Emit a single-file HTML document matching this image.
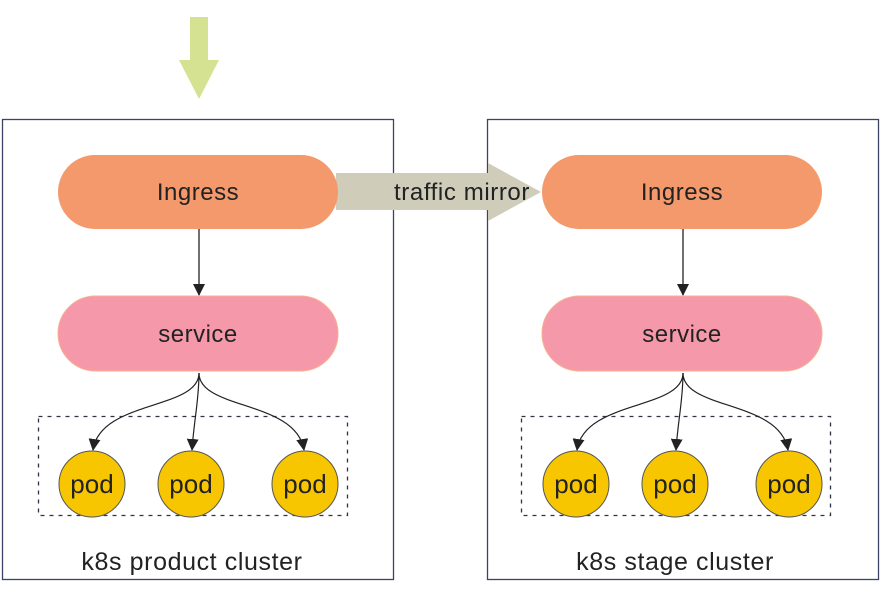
<!DOCTYPE html>
<html><head><meta charset="utf-8"><style>
html,body{margin:0;padding:0;background:#fff;}
svg{display:block;}
text{font-family:"Liberation Sans",sans-serif;fill:#222;}
</style></head><body>
<svg width="887" height="599" viewBox="0 0 887 599" xmlns="http://www.w3.org/2000/svg">
<defs>
<marker id="ah" markerWidth="12" markerHeight="12" refX="11" refY="6" orient="auto" markerUnits="userSpaceOnUse">
<path d="M0,0 L12,6 L0,12 z" fill="#222"/>
</marker>
</defs>
<polygon points="190,17 208,17 208,60 219,60 199,99 179,60 190,60" fill="#d4e291"/>
<rect x="2.5" y="119.5" width="391" height="460" fill="none" stroke="#3c4466" stroke-width="1.3"/>
<rect x="487.5" y="119.5" width="391" height="460" fill="none" stroke="#3c4466" stroke-width="1.3"/>
<polygon points="336,173 488,173 488,163 541,192 488,221 488,210 336,210" fill="#cfccba"/>
<text x="462" y="200" font-size="24" letter-spacing="0.6" text-anchor="middle">traffic mirror</text>
<g>
<rect x="58" y="155" width="280" height="74" rx="37" fill="#f4996b"/>
<text x="198" y="200" font-size="24" letter-spacing="0.5" text-anchor="middle">Ingress</text>
<line x1="199" y1="229" x2="199" y2="295" stroke="#222" stroke-width="1.3" marker-end="url(#ah)"/>
<rect x="58" y="296" width="280" height="75" rx="37.5" fill="#f598aa" stroke="#f8b090" stroke-width="1"/>
<text x="198" y="342" font-size="24" letter-spacing="0.5" text-anchor="middle">service</text>
<rect x="38.5" y="416.5" width="309" height="99" fill="none" stroke="#334" stroke-width="1.3" stroke-dasharray="4,5"/>
<path d="M199,373 C199,410 100,400 93,450" fill="none" stroke="#222" stroke-width="1.2" marker-end="url(#ah)"/>
<path d="M199,373 C199,400 194,420 192,450" fill="none" stroke="#222" stroke-width="1.2" marker-end="url(#ah)"/>
<path d="M199,373 C199,410 296,400 304,450" fill="none" stroke="#222" stroke-width="1.2" marker-end="url(#ah)"/>
<circle cx="92" cy="484" r="33" fill="#f8c600" stroke="#555" stroke-width="1"/>
<circle cx="191" cy="484" r="33" fill="#f8c600" stroke="#555" stroke-width="1"/>
<circle cx="305" cy="484" r="33" fill="#f8c600" stroke="#555" stroke-width="1"/>
<text x="92" y="493" font-size="26" text-anchor="middle">pod</text>
<text x="191" y="493" font-size="26" text-anchor="middle">pod</text>
<text x="305" y="493" font-size="26" text-anchor="middle">pod</text>
</g>
<g transform="translate(484,0)">
<rect x="58" y="155" width="280" height="74" rx="37" fill="#f4996b"/>
<text x="198" y="200" font-size="24" letter-spacing="0.5" text-anchor="middle">Ingress</text>
<line x1="199" y1="229" x2="199" y2="295" stroke="#222" stroke-width="1.3" marker-end="url(#ah)"/>
<rect x="58" y="296" width="280" height="75" rx="37.5" fill="#f598aa" stroke="#f8b090" stroke-width="1"/>
<text x="198" y="342" font-size="24" letter-spacing="0.5" text-anchor="middle">service</text>
<rect x="37.5" y="416.5" width="309" height="99" fill="none" stroke="#334" stroke-width="1.3" stroke-dasharray="4,5"/>
<path d="M199,373 C199,410 100,400 93,450" fill="none" stroke="#222" stroke-width="1.2" marker-end="url(#ah)"/>
<path d="M199,373 C199,400 194,420 192,450" fill="none" stroke="#222" stroke-width="1.2" marker-end="url(#ah)"/>
<path d="M199,373 C199,410 296,400 304,450" fill="none" stroke="#222" stroke-width="1.2" marker-end="url(#ah)"/>
<circle cx="92" cy="484" r="33" fill="#f8c600" stroke="#555" stroke-width="1"/>
<circle cx="191" cy="484" r="33" fill="#f8c600" stroke="#555" stroke-width="1"/>
<circle cx="305" cy="484" r="33" fill="#f8c600" stroke="#555" stroke-width="1"/>
<text x="92" y="493" font-size="26" text-anchor="middle">pod</text>
<text x="191" y="493" font-size="26" text-anchor="middle">pod</text>
<text x="305" y="493" font-size="26" text-anchor="middle">pod</text>
</g>
<text x="192" y="570" font-size="25" letter-spacing="0.6" text-anchor="middle" fill="#333">k8s product cluster</text>
<text x="675" y="570" font-size="25" letter-spacing="0.6" text-anchor="middle" fill="#333">k8s stage cluster</text>
</svg>
</body></html>
